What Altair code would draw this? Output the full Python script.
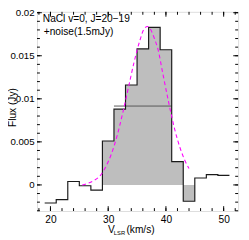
import altair as alt
import pandas as pd

# ---- data ----
bin_left = [19, 21, 23, 25, 27, 29, 31, 33, 35, 37, 39, 41, 43, 45, 47, 49]
flux = [-0.0021, -0.0017, 0.0004, -0.0001, -0.0006, 0.0051, 0.0088, 0.0116,
        0.0158, 0.0183, 0.0157, 0.0027, -0.0019, 0.0008, 0.0012, 0.0011]
bin_width = 2
fill_range = [29, 45]          # velocity range that is shaded
half_max_v = [31, 41]
half_max_flux = 0.00916

fit_v = [25.5, 26.5, 27.5, 28.5, 29.5, 30.5, 31.5, 32.5, 33.5, 34.5, 35.5,
         36.2, 36.8, 37.4, 38.0, 38.6, 39.5, 40.5, 41.5, 42.5, 43.3, 44.0]
fit_flux = [0.0000, 0.0002, 0.0005, 0.0010, 0.0020, 0.0035, 0.0056, 0.0083,
            0.0113, 0.0143, 0.0168, 0.0181, 0.0184, 0.0180, 0.0170, 0.0158,
            0.0128, 0.0095, 0.0065, 0.0042, 0.0028, 0.0019]

x_major = [20, 30, 40, 50]
x_minor = [18, 20, 22, 24, 26, 28, 30, 32, 34, 36, 38, 40, 42, 44, 46, 48, 50, 52]
y_major = [0, 0.005, 0.01, 0.015, 0.02]
y_minor = [-0.003, -0.002, -0.001, 0, 0.001, 0.002, 0.003, 0.004, 0.005, 0.006,
           0.007, 0.008, 0.009, 0.010, 0.011, 0.012, 0.013, 0.014, 0.015, 0.016,
           0.017, 0.018, 0.019, 0.020]

title_line1 = "NaCl v=0, J=20\u221219"
title_line2 = "+noise(1.5mJy)"

# ---- geometry / style ----
W, H = 208, 206
FONT = "Liberation Sans"
FS = 10.5
xs = alt.Scale(domain=[17.67, 52.5], nice=False, zero=False)
ys = alt.Scale(domain=[-0.00303, 0.0201], nice=False, zero=False)
xaxis = alt.Axis(values=x_major, ticks=False, domain=False, grid=False,
                 labelPadding=4, labelFontSize=FS, labelFont=FONT,
                 labelColor="black", title=None, labelFlush=False)
yaxis = alt.Axis(values=y_major, ticks=False, domain=False, grid=False,
                 labelPadding=3, labelFontSize=10, labelFont=FONT,
                 labelColor="black", title=None, format=".3~f")

# ---- tables ----
step_df = pd.DataFrame({
    "v": bin_left + [bin_left[-1] + bin_width],
    "f": flux + [flux[-1]],
})
sel = [i for i, b in enumerate(bin_left) if fill_range[0] <= b < fill_range[1]]
fill_df = pd.DataFrame({
    "v": [bin_left[i] for i in sel] + [fill_range[1]],
    "f": [flux[i] for i in sel] + [flux[sel[-1]]],
})
fill_df["base"] = 0.0
hm_df = pd.DataFrame({"v0": [half_max_v[0]], "v1": [half_max_v[1]], "f": [half_max_flux]})
fit_df = pd.DataFrame({"v": fit_v, "f": fit_flux})

X = lambda f: alt.X(f, scale=xs, axis=xaxis)
Y = lambda f: alt.Y(f, scale=ys, axis=yaxis)

fill = alt.Chart(fill_df).mark_area(interpolate="step-after", color="#bebebe").encode(
    x=X("v:Q"), y=Y("f:Q"), y2="base:Q")
hm = alt.Chart(hm_df).mark_rule(color="#555555", strokeWidth=1).encode(
    x=X("v0:Q"), x2="v1:Q", y=Y("f:Q"))
step = alt.Chart(step_df).mark_line(interpolate="step-after", color="#1a1a1a",
                                    strokeWidth=1.2).encode(x=X("v:Q"), y=Y("f:Q"))
fit = alt.Chart(fit_df).mark_line(interpolate="monotone", color="#ff00ff",
                                  strokeWidth=1.1, strokeDash=[4, 3]).encode(
    x=X("v:Q"), y=Y("f:Q"))

def xticks(vals, length):
    d = pd.DataFrame({"t": vals})
    b = alt.Chart(d).mark_rule(color="black", strokeWidth=1).encode(
        x=X("t:Q"), y=alt.value(H), y2=alt.value(H - length))
    t = alt.Chart(d).mark_rule(color="black", strokeWidth=1).encode(
        x=X("t:Q"), y=alt.value(0), y2=alt.value(length))
    return [b, t]

def yticks(vals, length):
    d = pd.DataFrame({"t": vals})
    l = alt.Chart(d).mark_rule(color="black", strokeWidth=1).encode(
        y=Y("t:Q"), x=alt.value(0), x2=alt.value(length))
    r = alt.Chart(d).mark_rule(color="black", strokeWidth=1).encode(
        y=Y("t:Q"), x=alt.value(W), x2=alt.value(W - length))
    return [l, r]

ticks = xticks(x_minor, 3) + xticks(x_major, 5) + yticks(y_minor, 3) + yticks(y_major, 5)

def label(txt, x, y, size=FS, angle=0, align="left", baseline="alphabetic"):
    return alt.Chart(pd.DataFrame({"s": [txt]})).mark_text(
        font=FONT, fontSize=size, color="black", align=align, baseline=baseline,
        angle=angle).encode(text="s:N", x=alt.value(x), y=alt.value(y))

texts = [
    label(title_line1, 6, 11),
    label(title_line2, 7, 23.8),
    label("V", 73.5, 229),
    label("LSR", 79.5, 231, size=6),
    label("(km/s)", 92.5, 229),
    label("Flux (Jy)", -25, 99, angle=270, align="center", baseline="middle"),
]

chart = alt.layer(fill, hm, step, fit, *ticks, *texts).properties(
    width=W, height=H,
    autosize=alt.AutoSizeParams(type="none"),
    padding={"left": 30, "top": 0, "right": 3, "bottom": 26},
).configure_view(stroke="black", strokeWidth=1).configure(background="white")

chart.save("out.html", embed_options={"renderer": "svg", "actions": False})
